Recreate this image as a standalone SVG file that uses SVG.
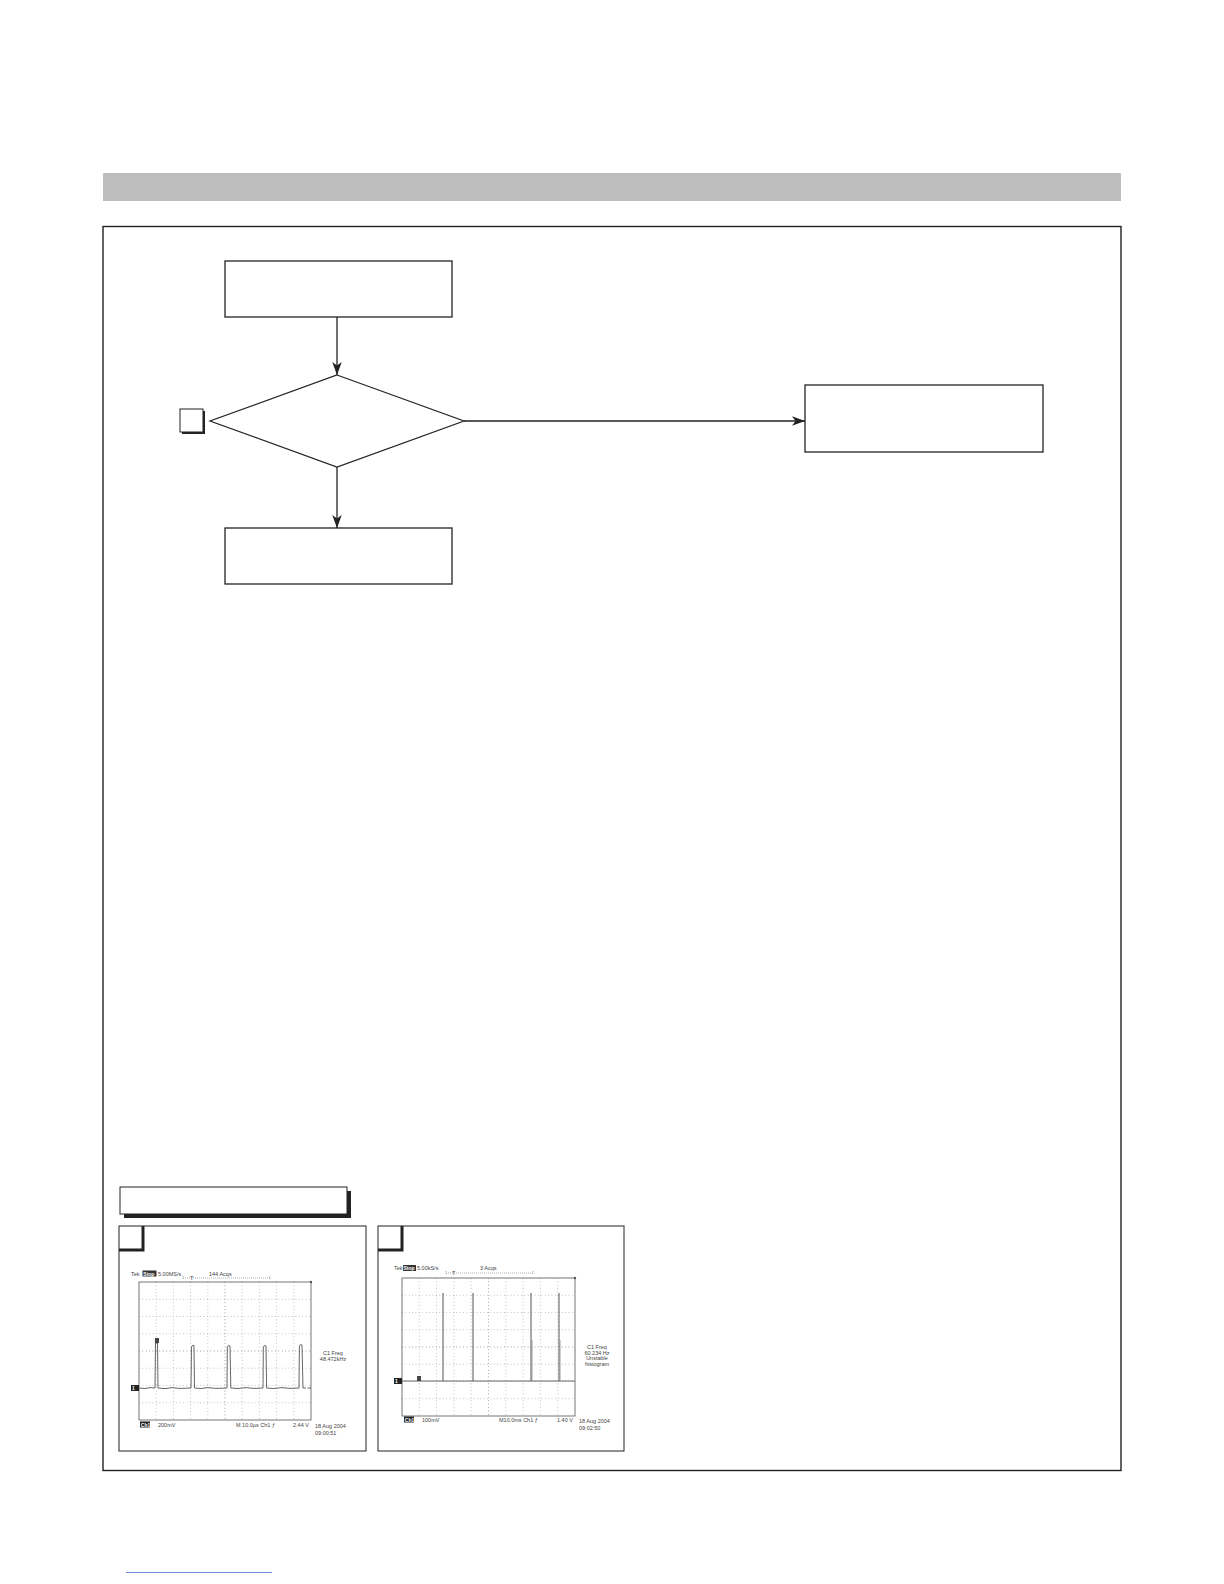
<svg xmlns="http://www.w3.org/2000/svg" width="1224" height="1584" viewBox="0 0 1224 1584">
<defs>
<style>
.box{fill:#fff;stroke:#222;stroke-width:1.3}
.thin{fill:none;stroke:#222;stroke-width:1.2}
.conn{fill:none;stroke:#222;stroke-width:1.3}
.sbox{fill:#fff;stroke:#222;stroke-width:1}
.grid{fill:none;stroke:#999;stroke-width:0.7;stroke-dasharray:0.8 2.6}
.gframe{fill:none;stroke:#666;stroke-width:0.9}
.trace{fill:none;stroke:#555;stroke-width:0.9}
.st{font-family:"Liberation Sans",Arial,sans-serif;font-size:5.5px;fill:#444}
.stw{font-family:"Liberation Sans",Arial,sans-serif;font-size:5px;fill:#fff;font-weight:bold}
</style>
<marker id="ah" markerUnits="userSpaceOnUse" markerWidth="14" markerHeight="10" refX="13" refY="4.75" orient="auto">
<path d="M0,0 L13,4.75 L0,9.5 L3.5,4.75 z" fill="#222"/>
</marker>
</defs>
<rect width="1224" height="1584" fill="#fff"/>
<rect id="header-bar" x="103" y="173" width="1018" height="28" fill="#bdbdbd"/>
<rect id="frame" x="103" y="226.5" width="1018" height="1244" fill="none" stroke="#222" stroke-width="1.4"/>

<g id="connectors">
<line class="conn" x1="337" y1="317" x2="337" y2="375" marker-end="url(#ah)"/>
<line class="conn" x1="337" y1="467" x2="337" y2="528" marker-end="url(#ah)"/>
<line class="conn" x1="464" y1="421" x2="805" y2="421" marker-end="url(#ah)"/>
</g>

<g id="node-start"><rect class="box" x="225" y="261" width="227" height="56"/></g>
<g id="node-decision"><polygon class="thin" points="337,375 464,421 337,467 210,421"/></g>
<g id="node-label-a">
<rect x="182" y="411" width="23" height="23" fill="#222"/>
<rect class="sbox" x="180" y="409" width="23" height="23"/>
</g>
<g id="node-yes"><rect class="box" x="805" y="385" width="238" height="67"/></g>
<g id="node-no"><rect class="box" x="225" y="528" width="227" height="56"/></g>

<g id="waveform-title">
<rect x="124" y="1191" width="227" height="27" fill="#222"/>
<rect class="sbox" x="120" y="1187" width="227" height="27" stroke-width="1.2"/>
</g>

<g id="scope-1">
<rect class="sbox" x="119" y="1226" width="247" height="225"/>
<path d="M143,1226 V1250 H119" fill="none" stroke="#222" stroke-width="3"/>
<path class="grid" d="M156.2,1282V1420M173.4,1282V1420M190.6,1282V1420M207.8,1282V1420M225,1282V1420M242.2,1282V1420M259.4,1282V1420M276.6,1282V1420M293.8,1282V1420M139,1299.25H311M139,1316.5H311M139,1333.75H311M139,1351H311M139,1368.25H311M139,1385.5H311M139,1402.75H311"/>
<path d="M225,1282V1420M139,1351H311" fill="none" stroke="#888" stroke-width="0.6" stroke-dasharray="0.6 2.8"/>
<rect class="gframe" x="139" y="1282" width="172" height="138"/>
<path class="trace" d="M139,1388 L145,1388.5 L150,1387.6 L155,1388 L155.5,1343 L157.5,1343 L158,1388 L165,1388.6 L172,1387.6 L180,1388.4 L191,1388 L191.5,1347 L192.5,1345.5 L194,1345.5 L194.5,1388 L201,1388.5 L208,1387.6 L216,1388.4 L227,1388 L227.3,1347 L228.5,1345.5 L230,1346 L230.8,1388 L238,1388.5 L246,1387.6 L254,1388.4 L263,1388 L263.3,1347 L264.5,1345.5 L266,1346 L266.6,1388 L274,1388.5 L282,1387.6 L290,1388.4 L299,1388 L299.4,1346 L300.5,1344.5 L302,1345 L303,1388 L306,1388 M307.5,1388 L311,1388"/>
<rect x="155" y="1338" width="4" height="5" fill="#444"/>
<rect x="131" y="1385" width="8" height="6" fill="#222"/>
<text class="stw" x="132" y="1390">1</text>
<text class="st" x="131" y="1275.5">Tek</text>
<rect x="142.5" y="1270.5" width="14" height="6" fill="#333"/>
<text class="stw" x="143.3" y="1275.5">Stop</text>
<text class="st" x="158" y="1275.5">5.00MS/s</text>
<text class="st" x="209" y="1275.5">144 Acqs</text>
<path d="M183,1276V1280M183,1278H270M270,1276V1280" fill="none" stroke="#777" stroke-width="0.6" stroke-dasharray="1 1"/>
<text class="st" x="190" y="1280">T</text>
<circle cx="311" cy="1282" r="1.2" fill="#555"/>
<text class="st" x="333" y="1355" text-anchor="middle">C1 Freq</text>
<text class="st" x="333" y="1361" text-anchor="middle">48.472kHz</text>
<rect x="140" y="1421.5" width="10" height="6" fill="#222"/>
<text class="stw" x="140.8" y="1426.5">Ch1</text>
<text class="st" x="158" y="1427">200mV</text>
<text class="st" x="236" y="1427">M 10.0µs  Ch1  ƒ</text>
<text class="st" x="293" y="1427">2.44 V</text>
<text class="st" x="315" y="1428">18 Aug 2004</text>
<text class="st" x="315" y="1435">09:00:51</text>
</g>

<g id="scope-2">
<rect class="sbox" x="378" y="1226" width="246" height="225"/>
<path d="M402,1226 V1250 H378" fill="none" stroke="#222" stroke-width="3"/>
<path class="grid" d="M419.3,1278V1416M436.6,1278V1416M453.9,1278V1416M471.2,1278V1416M488.5,1278V1416M505.8,1278V1416M523.1,1278V1416M540.4,1278V1416M557.7,1278V1416M402,1295.25H575M402,1312.5H575M402,1329.75H575M402,1347H575M402,1364.25H575M402,1381.5H575M402,1398.75H575"/>
<path d="M488.5,1278V1416M402,1347H575" fill="none" stroke="#888" stroke-width="0.6" stroke-dasharray="0.6 2.8"/>
<rect class="gframe" x="402" y="1278" width="173" height="138"/>
<path class="trace" d="M402,1381 H575"/>
<path d="M443,1381V1293M473,1381V1293M531,1381V1293M559,1381V1293" fill="none" stroke="#555" stroke-width="1"/>
<path d="M532,1381V1340M560,1381V1340" fill="none" stroke="#888" stroke-width="0.8"/>
<rect x="417" y="1376" width="4" height="5" fill="#444"/>
<rect x="394" y="1378" width="8" height="6" fill="#222"/>
<text class="stw" x="395" y="1383">1</text>
<text class="st" x="394" y="1270">Tek</text>
<rect x="403" y="1265" width="13" height="6" fill="#333"/>
<text class="stw" x="403.5" y="1270">Stop</text>
<text class="st" x="417" y="1270">5.00kS/s</text>
<text class="st" x="480" y="1270">3 Acqs</text>
<path d="M446,1271V1275M446,1273H533M533,1271V1275" fill="none" stroke="#777" stroke-width="0.6" stroke-dasharray="1 1"/>
<text class="st" x="452" y="1275">T</text>
<circle cx="575" cy="1278" r="1.2" fill="#555"/>
<text class="st" x="597" y="1349" text-anchor="middle">C1 Freq</text>
<text class="st" x="597" y="1354.5" text-anchor="middle">60.234 Hz</text>
<text class="st" x="597" y="1360" text-anchor="middle">Unstable</text>
<text class="st" x="597" y="1365.5" text-anchor="middle">histogram</text>
<rect x="404" y="1416.5" width="10" height="6" fill="#222"/>
<text class="stw" x="404.8" y="1421.5">Ch1</text>
<text class="st" x="422" y="1422">100mV</text>
<text class="st" x="499" y="1422">M10.0ms  Ch1  ƒ</text>
<text class="st" x="557" y="1422">1.40 V</text>
<text class="st" x="579" y="1423">18 Aug 2004</text>
<text class="st" x="579" y="1430">09:02:50</text>
</g>

<line id="footer-line" x1="126" y1="1572.5" x2="272" y2="1572.5" stroke="#6f8fd8" stroke-width="1"/>
</svg>
